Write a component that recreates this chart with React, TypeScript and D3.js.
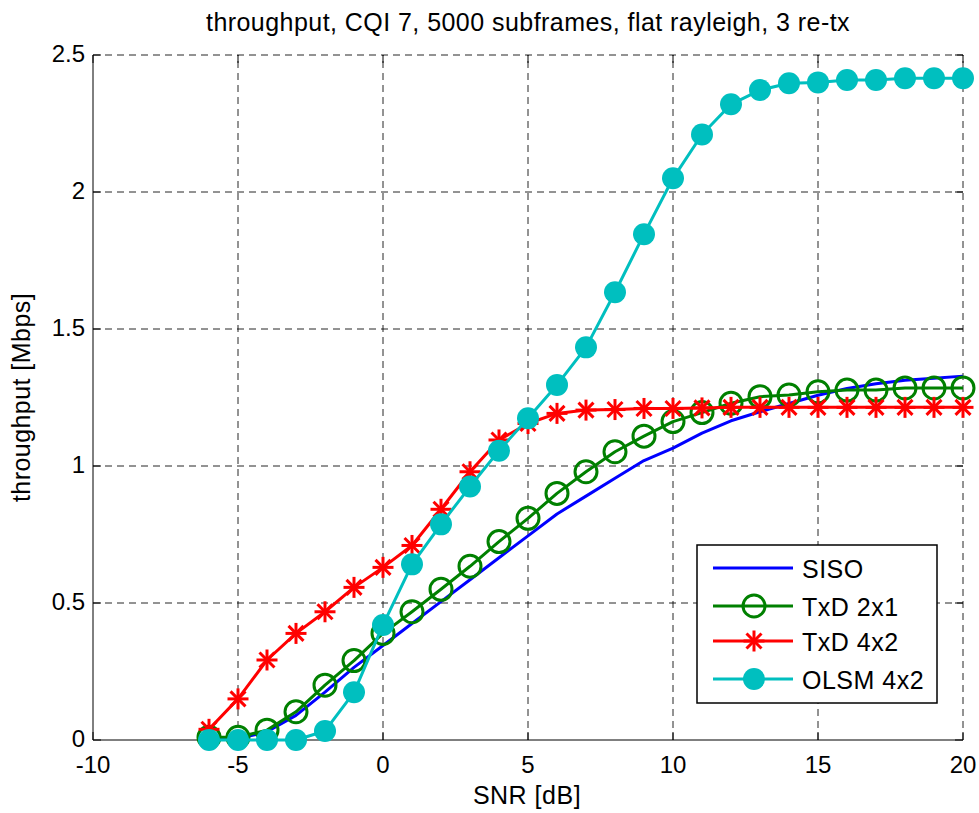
import React from "react";
import * as d3 from "d3";

const snr = [-6,-5,-4,-3,-2,-1,0,1,2,3,4,5,6,7,8,9,10,11,12,13,14,15,16,17,18,19,20];
const siso = [0.0,0.005,0.03,0.09,0.175,0.265,0.345,0.425,0.505,0.585,0.665,0.745,0.825,0.89,0.955,1.02,1.065,1.12,1.165,1.198,1.228,1.258,1.283,1.3,1.313,1.32,1.328];
const txd21 = [0.01,0.01,0.036,0.103,0.2,0.29,0.389,0.468,0.55,0.634,0.724,0.809,0.9,0.979,1.052,1.109,1.162,1.195,1.229,1.253,1.259,1.271,1.277,1.277,1.285,1.285,1.285];
const txd42 = [0.039,0.15,0.292,0.389,0.468,0.557,0.63,0.71,0.842,0.979,1.095,1.155,1.192,1.204,1.206,1.21,1.21,1.212,1.214,1.214,1.214,1.214,1.214,1.214,1.214,1.214,1.214];
const olsm = [0.0,0.0,0.0,0.0,0.033,0.174,0.42,0.641,0.787,0.925,1.056,1.174,1.296,1.433,1.634,1.846,2.05,2.21,2.32,2.372,2.397,2.4,2.409,2.409,2.415,2.415,2.415];

const xTicks = [-10,-5,0,5,10,15,20];
const yTicks = [0,0.5,1,1.5,2,2.5];
const seriesNames = ["SISO","TxD 2x1","TxD 4x2","OLSM 4x2"];
const seriesColors = ["#0000ff","#008000","#ff0000","#00bfbf"];
const seriesMarkers = ["none","circle","star","dot"];

const W = 979, H = 813;
const L = 93, R = 963, T = 55, B = 740;
const FONT = "'Liberation Sans', Arial, Helvetica, sans-serif";

function Marker({kind, x, y, color}: {kind: string; x: number; y: number; color: string}) {
  if (kind === "circle") return <circle cx={x} cy={y} r={11} fill="none" stroke={color} strokeWidth={3} />;
  if (kind === "dot") return <circle cx={x} cy={y} r={11} fill={color} stroke="none" />;
  if (kind === "star") {
    const s = 10.5, d = 7.5;
    return (
      <g stroke={color} strokeWidth={3}>
        <line x1={x - s} y1={y} x2={x + s} y2={y} />
        <line x1={x} y1={y - s} x2={x} y2={y + s} />
        <line x1={x - d} y1={y - d} x2={x + d} y2={y + d} />
        <line x1={x - d} y1={y + d} x2={x + d} y2={y - d} />
      </g>
    );
  }
  return null;
}

export default function App() {
  const x = d3.scaleLinear().domain([-10, 20]).range([L, R]);
  const y = d3.scaleLinear().domain([0, 2.5]).range([B, T]);
  const data = [siso, txd21, txd42, olsm];
  const line = d3.line<number>().x((_, i) => x(snr[i])).y((v) => y(v));

  const legX = 697, legY = 545, legW = 240, legH = 158;
  const rowsY = [568, 606, 641, 679];

  return (
    <svg width={W} height={H} style={{ position: "absolute", left: 0, top: 0, background: "#fff" }} fontFamily={FONT}>
      <rect x={0} y={0} width={W} height={H} fill="#fff" />
      {/* grid */}
      <g stroke="#000" strokeOpacity={0.85} strokeWidth={1} strokeDasharray="7,5">
        {xTicks.filter((t) => t > -10).map((t) => (
          <line key={"gx" + t} x1={x(t)} x2={x(t)} y1={B} y2={T} />
        ))}
        {yTicks.filter((t) => t > 0).map((t) => (
          <line key={"gy" + t} x1={L} x2={R} y1={y(t)} y2={y(t)} />
        ))}
      </g>
      {/* axes */}
      <line x1={L} x2={L} y1={T} y2={B} stroke="#000" strokeWidth={1} />
      <line x1={L} x2={R} y1={B} y2={B} stroke="#000" strokeWidth={1} />
      <g stroke="#000" strokeWidth={1}>
        {xTicks.map((t) => (
          <g key={"tx" + t}>
            <line x1={x(t)} x2={x(t)} y1={B} y2={B - 8} />
            <line x1={x(t)} x2={x(t)} y1={T} y2={T + 8} />
          </g>
        ))}
        {yTicks.map((t) => (
          <g key={"ty" + t}>
            <line x1={L} x2={L + 8} y1={y(t)} y2={y(t)} />
            <line x1={R} x2={R - 8} y1={y(t)} y2={y(t)} />
          </g>
        ))}
      </g>
      {/* tick labels */}
      <g fontSize={24} fill="#000">
        {xTicks.map((t) => (
          <text key={"lx" + t} x={x(t)} y={B + 33} textAnchor="middle">{t}</text>
        ))}
        {yTicks.map((t) => (
          <text key={"ly" + t} x={L - 8} y={y(t) + 7} textAnchor="end">{t}</text>
        ))}
      </g>
      {/* series */}
      {data.map((vals, si) => (
        <g key={"s" + si}>
          <path d={line(vals) || ""} fill="none" stroke={seriesColors[si]} strokeWidth={3} strokeLinejoin="round" />
          {vals.map((v, i) => (
            <Marker key={i} kind={seriesMarkers[si]} x={x(snr[i])} y={y(v)} color={seriesColors[si]} />
          ))}
        </g>
      ))}
      {/* title and labels */}
      <text x={(L + R) / 2} y={31} textAnchor="middle" fontSize={25} letterSpacing={0.45}>throughput, CQI 7, 5000 subframes, flat rayleigh, 3 re-tx</text>
      <text x={(L + R) / 2 - 1} y={804} textAnchor="middle" fontSize={25} letterSpacing={0.5}>SNR [dB]</text>
      <text transform={`translate(30,${(T + B) / 2}) rotate(-90)`} textAnchor="middle" fontSize={25} letterSpacing={0.45}>throughput [Mbps]</text>
      {/* legend */}
      <rect x={legX} y={legY} width={legW} height={legH} fill="#fff" stroke="#000" strokeWidth={1.5} />
      {seriesNames.map((n, i) => (
        <g key={"lg" + i}>
          <line x1={713} x2={793} y1={rowsY[i]} y2={rowsY[i]} stroke={seriesColors[i]} strokeWidth={3} />
          <Marker kind={seriesMarkers[i]} x={754} y={rowsY[i]} color={seriesColors[i]} />
          <text x={802} y={rowsY[i] + 10} fontSize={25} letterSpacing={0.5}>{n}</text>
        </g>
      ))}
    </svg>
  );
}
